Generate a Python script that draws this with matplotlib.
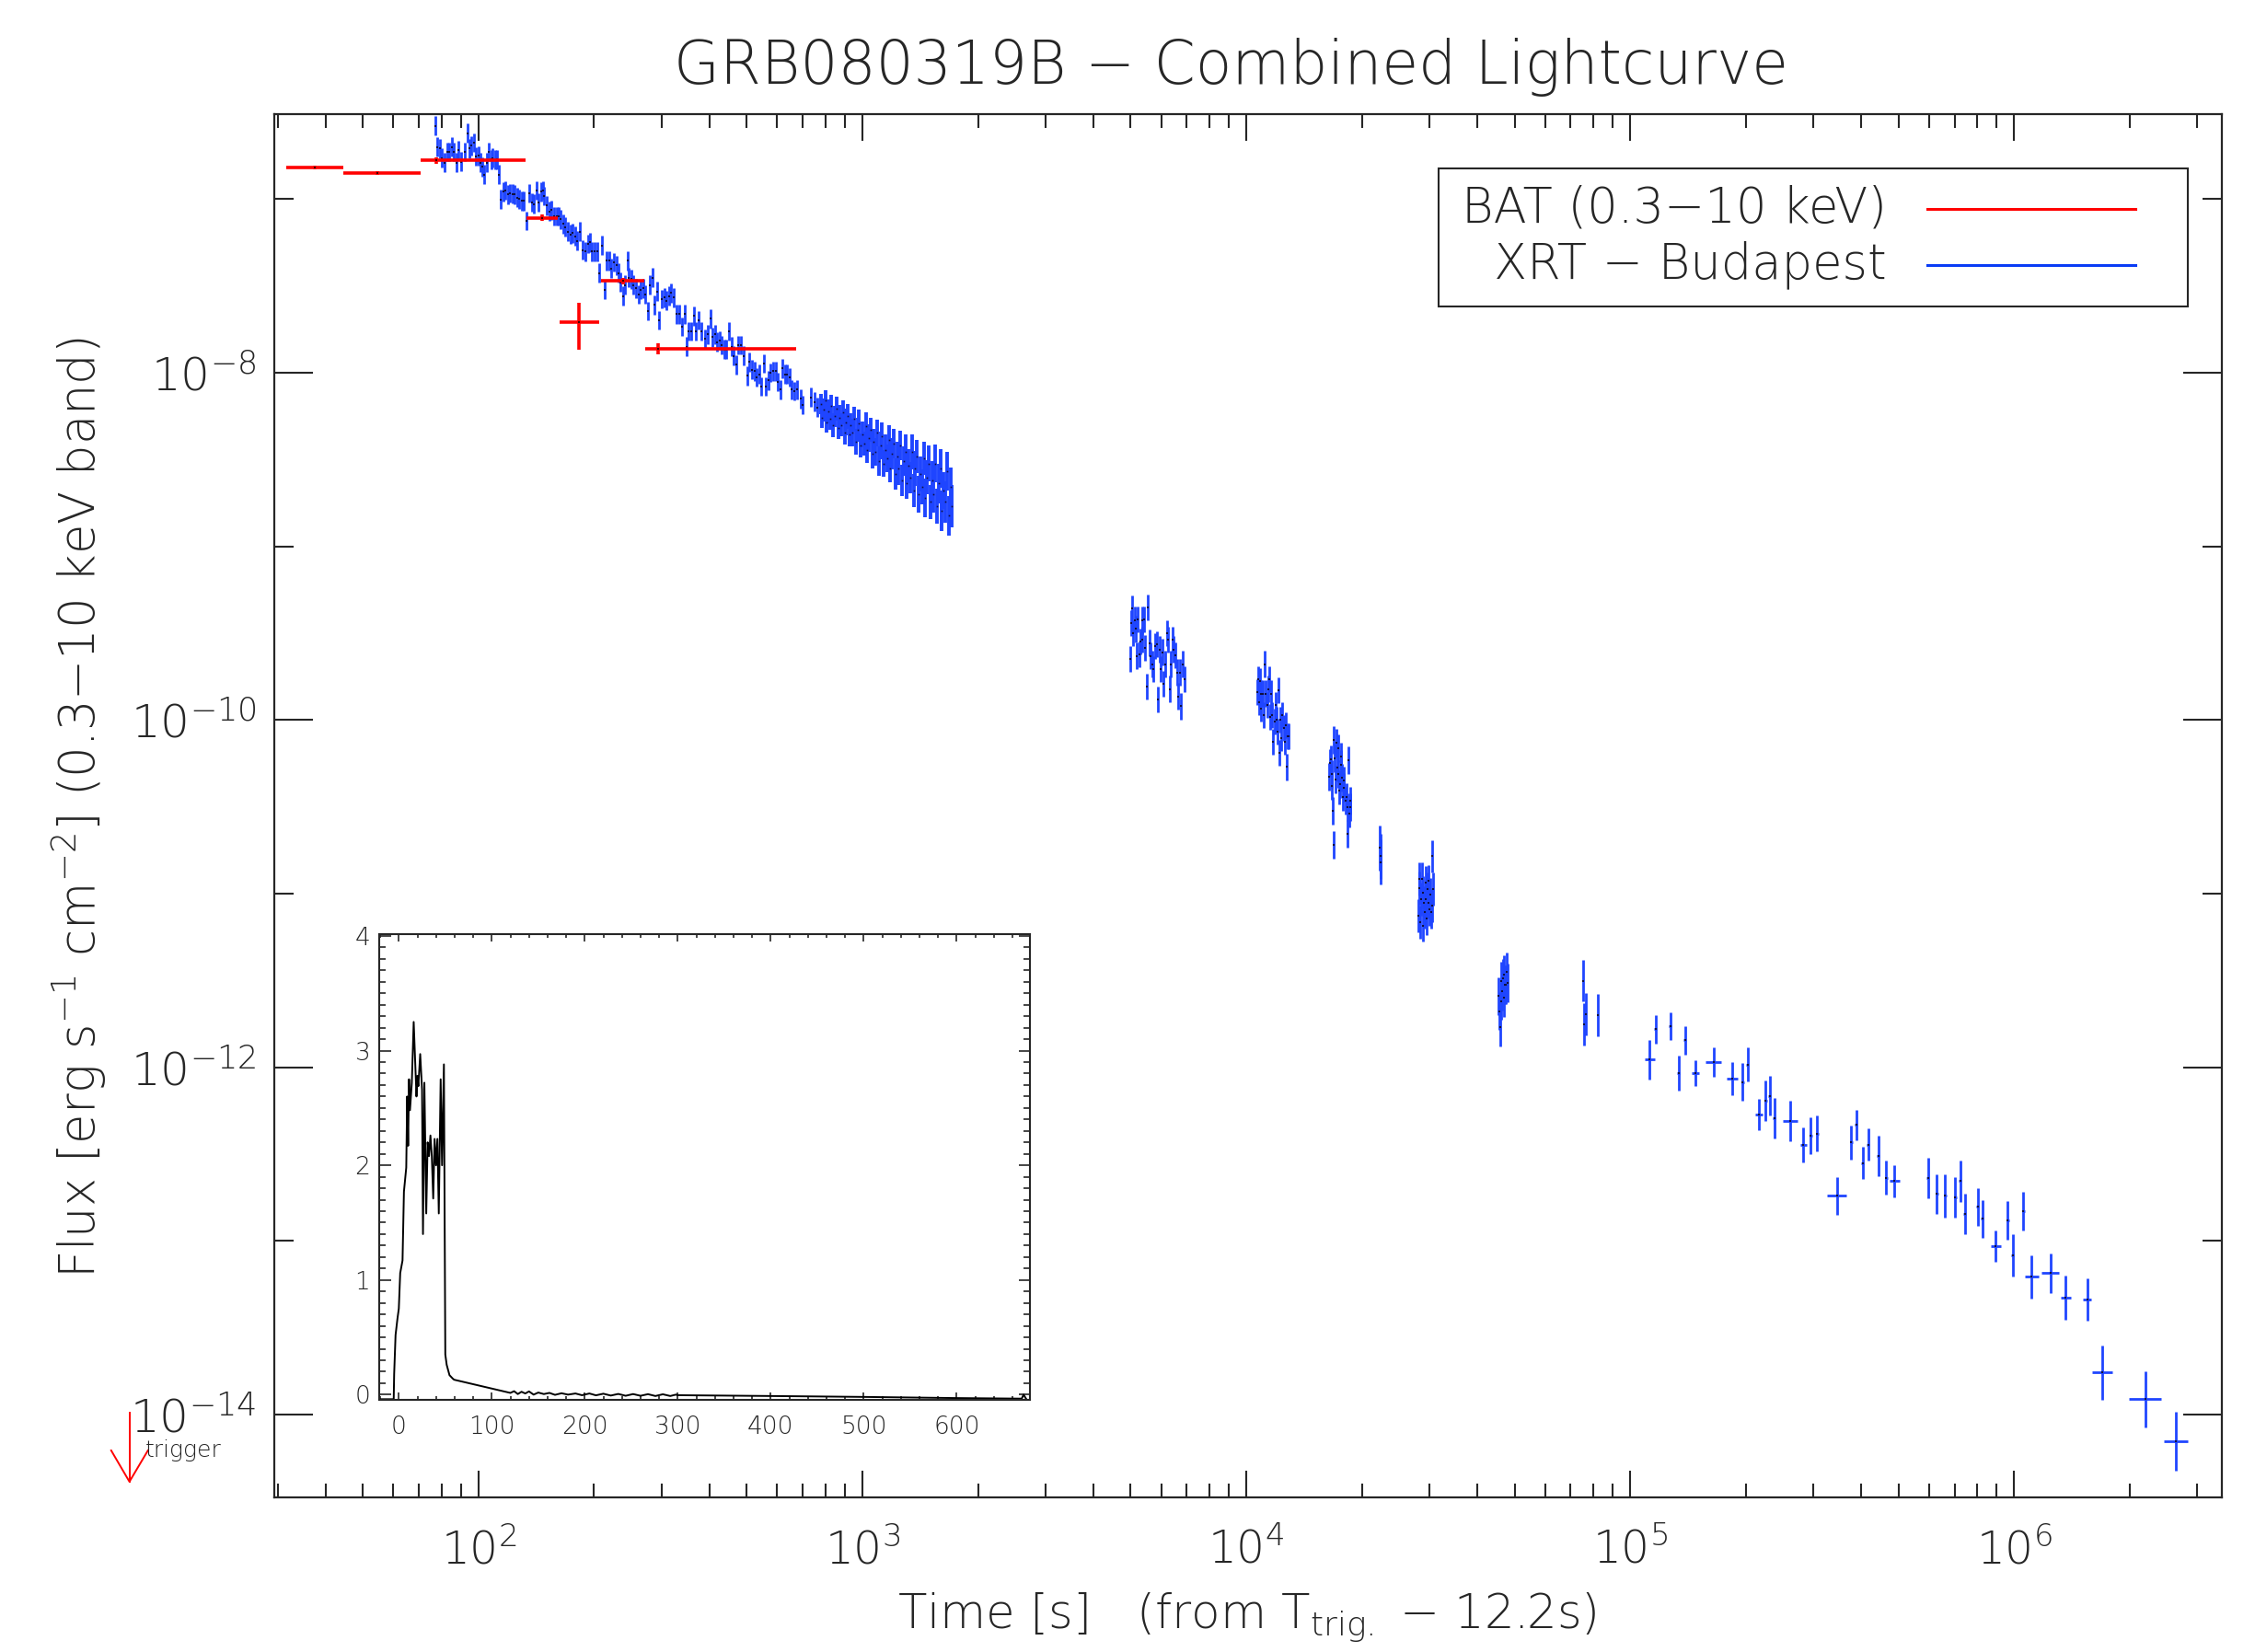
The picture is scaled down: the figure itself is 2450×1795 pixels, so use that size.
import matplotlib
matplotlib.use("Agg")
import matplotlib.pyplot as plt
from matplotlib.lines import Line2D
from matplotlib.patches import Rectangle
from matplotlib.ticker import (LogLocator, FixedLocator, NullFormatter,
                               LogFormatterMathtext, MultipleLocator)
import numpy as np

plt.rcParams['font.family'] = ['DejaVu Sans']
plt.rcParams['font.weight'] = 'light'
plt.rcParams['mathtext.fontset'] = 'dejavusans'

BLUE = '#1f45ff'
RED = '#ff0000'
INK = '#262626'

# ---------------- BAT (red) ----------------
bat_t = [37.4, 54.5, 77.6, 146.8, 183, 238, 293]
bat_tlo = [31.6, 44.5, 70.6, 133, 162.5, 208, 272]
bat_thi = [44.5, 70.6, 132.5, 161, 206, 270, 672]
bat_f = [1.52e-7, 1.41e-7, 1.67e-7, 7.8e-8, 1.95e-8, 3.37e-8, 1.37e-8]
bat_flo = [1.49e-7, 1.38e-7, 1.60e-7, 7.5e-8, 1.36e-8, 3.23e-8, 1.27e-8]
bat_fhi = [1.55e-7, 1.44e-7, 1.74e-7, 8.1e-8, 2.52e-8, 3.51e-8, 1.48e-8]

# ---------------- XRT early WT (blue) ----------------
wt1_t = [77.2, 78.0, 79.4, 80.3, 81.6, 82.8, 84.0, 85.2, 86.4, 87.6, 88.8, 90.1,
         91.9, 93.5, 94.5, 95.9, 97.2, 98.6, 100.0, 101.1, 102.3, 103.4, 104.9,
         106.4, 107.9, 108.8, 110.4, 111.9, 112.9,
         114.5, 115.8, 117.4, 119.1, 120.8, 122.5, 124.2, 126.0, 127.8, 129.6,
         131.4, 133.3, 135.6, 137.5, 139.4, 141.4, 143.4, 145.5, 147.1, 148.4,
         150.5, 152.6, 154.8, 157.0, 160.1, 161.9, 163.8, 166.1, 168.5, 170.9,
         173.3, 175.8, 178.2, 180.7, 183.8, 187.0, 190.1, 192.9, 195.6, 197.8,
         200.6, 203.4, 206.3, 209.8, 212.8, 215.8, 218.9, 221.4, 225.2, 228.4,
         231.6, 234.2, 237.6, 240.9, 244.3, 246.4, 249.9, 253.5, 257.0, 260.8,
         264.5, 268.2, 272.0, 275.8, 279.8, 283.8, 287.7, 291.8, 296.0, 300.2,
         304.5, 308.8, 313.2, 317.6, 322.2, 328.6, 333.2, 338.0, 343.7, 347.6,
         352.5, 357.5, 363.6, 368.8, 374.0, 381.4, 389.0, 395.7, 401.3, 407.0,
         412.8, 418.7, 424.6, 430.5, 436.6, 442.9, 449.2, 455.5, 461.9, 468.5,
         475.2, 481.9, 491.5, 501.2, 508.3, 515.5, 522.9, 530.3, 537.9, 545.5,
         553.3, 561.3, 569.2, 577.3, 585.5, 593.8, 602.2, 610.8, 619.4, 628.2,
         637.2, 646.2, 655.4, 664.7, 674.1, 689.5, 699.3, 735, 750, 762]
wt1_f = [2.64e-7, 1.99e-7, 1.95e-7, 1.72e-7, 1.62e-7, 1.87e-7, 1.87e-7, 1.99e-7,
         1.87e-7, 1.62e-7, 1.91e-7, 1.64e-7, 1.87e-7, 2.39e-7, 1.95e-7, 2.03e-7,
         2.11e-7, 1.76e-7, 1.77e-7, 1.62e-7, 1.53e-7, 1.38e-7, 1.62e-7, 1.87e-7,
         1.69e-7, 1.72e-7, 1.68e-7, 1.69e-7, 1.38e-7,
         9.96e-8, 1.10e-7, 1.12e-7, 1.06e-7, 1.08e-7, 1.07e-7, 1.06e-7, 1.02e-7,
         1.00e-7, 9.76e-8, 9.76e-8, 7.49e-8, 1.08e-7, 9.56e-8, 9.37e-8, 1.12e-7,
         9.56e-8, 1.10e-7, 1.12e-7, 1.04e-7, 9.18e-8, 8.47e-8, 8.64e-8, 7.96e-8,
         7.96e-8, 7.96e-8, 7.64e-8, 7.19e-8, 6.91e-8, 6.50e-8, 6.24e-8, 6.37e-8,
         6.11e-8, 5.75e-8, 6.50e-8, 5.09e-8, 4.99e-8, 5.52e-8, 5.63e-8, 4.99e-8,
         4.99e-8, 4.99e-8, 3.75e-8, 5.41e-8, 3.00e-8, 4.41e-8, 4.41e-8, 3.99e-8,
         4.32e-8, 4.15e-8, 3.75e-8, 3.32e-8, 2.76e-8, 3.19e-8, 4.41e-8, 3.53e-8,
         3.46e-8, 3.19e-8, 3.06e-8, 2.82e-8, 3.00e-8, 3.06e-8, 2.82e-8, 2.26e-8,
         3.19e-8, 3.53e-8, 2.45e-8, 2.94e-8, 2.00e-8, 2.65e-8, 2.71e-8, 2.60e-8,
         2.76e-8, 2.88e-8, 2.71e-8, 2.17e-8, 2.17e-8, 1.84e-8, 2.17e-8, 1.41e-8,
         1.73e-8, 1.73e-8, 2.12e-8, 1.73e-8, 2.00e-8, 1.73e-8, 1.56e-8, 1.66e-8,
         2.04e-8, 1.60e-8, 1.66e-8, 1.50e-8, 1.53e-8, 1.44e-8, 1.36e-8, 1.36e-8,
         1.73e-8, 1.41e-8, 1.25e-8, 1.11e-8, 1.44e-8, 1.44e-8, 1.25e-8, 9.60e-9,
         1.15e-8, 1.04e-8, 1.02e-8, 9.41e-9, 9.80e-9, 8.33e-9, 1.13e-8, 8.33e-9,
         9.03e-9, 1.00e-8, 1.02e-8, 1.02e-8, 8.85e-9, 8.00e-9, 1.06e-8, 9.80e-9,
         9.80e-9, 9.41e-9, 8.00e-9, 7.83e-9, 8.00e-9, 7.08e-9, 6.52e-9, 7.2e-9,
         6.8e-9, 6.3e-9]
wt1_dex = 0.055

# ---------------- XRT dense WT band ----------------
wt2_t = [778, 786, 793, 801, 808, 816, 823, 831, 839, 847, 855, 864, 872, 880,
         889, 898, 906, 915, 924, 933, 942, 952, 961, 971, 980, 990, 1000, 1010,
         1020, 1030, 1040, 1050, 1061, 1071, 1082, 1093, 1104, 1115, 1126, 1137,
         1148, 1160, 1171, 1183, 1195, 1207, 1219, 1231, 1243, 1256, 1268, 1281,
         1294, 1307, 1320, 1333, 1346, 1360, 1373, 1387, 1401, 1415, 1429, 1444,
         1458, 1473, 1488, 1503, 1518, 1533, 1548, 1564, 1580, 1596, 1612, 1628,
         1644, 1661, 1678, 1695, 1712]
wt2_f = [6.6e-9, 5.5e-9, 6.1e-9, 6.9e-9, 5.2e-9, 6.0e-9, 5.4e-9, 6.4e-9, 5.0e-9,
         5.6e-9, 6.2e-9, 4.8e-9, 5.5e-9, 5.0e-9, 5.9e-9, 4.5e-9, 5.2e-9, 5.6e-9,
         4.4e-9, 5.0e-9, 4.5e-9, 5.4e-9, 4.0e-9, 4.7e-9, 5.1e-9, 3.8e-9, 4.4e-9,
         3.9e-9, 4.9e-9, 3.6e-9, 4.2e-9, 4.7e-9, 3.4e-9, 4.0e-9, 3.5e-9, 4.5e-9,
         3.1e-9, 3.8e-9, 4.3e-9, 3.0e-9, 3.6e-9, 3.2e-9, 4.1e-9, 2.8e-9, 3.4e-9,
         3.9e-9, 2.6e-9, 3.3e-9, 2.8e-9, 3.8e-9, 2.4e-9, 3.1e-9, 3.5e-9, 2.3e-9,
         2.9e-9, 2.5e-9, 3.5e-9, 2.1e-9, 2.8e-9, 3.3e-9, 2.0e-9, 2.6e-9, 2.2e-9,
         3.2e-9, 1.9e-9, 2.5e-9, 3.0e-9, 1.8e-9, 2.4e-9, 2.0e-9, 3.0e-9, 1.7e-9,
         2.3e-9, 2.8e-9, 1.6e-9, 2.1e-9, 1.8e-9, 2.7e-9, 1.5e-9, 2.2e-9, 1.7e-9]
# error-bar half length of each band point, in dex
wt2_dex = [0.06, 0.06, 0.065, 0.06, 0.06, 0.07, 0.06, 0.065, 0.07, 0.06, 0.07,
           0.065, 0.075, 0.065, 0.07, 0.065, 0.075, 0.07, 0.07, 0.065, 0.08, 0.07,
           0.075, 0.07, 0.08, 0.07, 0.075, 0.07, 0.08, 0.075, 0.08, 0.07, 0.085,
           0.075, 0.08, 0.075, 0.085, 0.08, 0.08, 0.075, 0.09, 0.08, 0.085, 0.08,
           0.09, 0.085, 0.09, 0.085, 0.095, 0.085, 0.09, 0.085, 0.10, 0.09, 0.095,
           0.09, 0.10, 0.095, 0.10, 0.095, 0.105, 0.10, 0.10, 0.095, 0.11, 0.10,
           0.105, 0.10, 0.11, 0.105, 0.11, 0.10, 0.115, 0.11, 0.115, 0.105, 0.12,
           0.11, 0.115, 0.11, 0.12]

# ---------------- XRT PC orbits (blue) ----------------
pcA_t = [4984, 5006, 5038, 5070, 5113, 5145, 5178, 5222, 5255, 5311, 5345, 5367,
         5402, 5459, 5505, 5552, 5600, 5635, 5683, 5719, 5780, 5841, 5879, 5941,
         5992, 6055, 6094, 6158, 6223, 6263, 6317, 6357, 6425, 6466, 6520, 6590,
         6660, 6703, 6774, 6846, 6890]
pcA_f = [2.24e-10, 3.61e-10, 4.40e-10, 3.17e-10, 3.77e-10, 3.34e-10, 2.34e-10,
         3.81e-10, 2.39e-10, 2.84e-10, 3.77e-10, 2.90e-10, 3.81e-10, 2.60e-10,
         1.56e-10, 4.45e-10, 2.78e-10, 2.34e-10, 2.10e-10, 1.96e-10, 2.66e-10,
         2.72e-10, 1.31e-10, 2.55e-10, 1.96e-10, 2.46e-10, 1.61e-10, 2.10e-10,
         3.17e-10, 2.90e-10, 1.51e-10, 2.10e-10, 2.90e-10, 2.55e-10, 2.36e-10,
         1.88e-10, 1.37e-10, 1.88e-10, 1.20e-10, 2.10e-10, 1.72e-10]
pcB_t = [10695, 10742, 10787, 10832, 10901, 10947, 11017, 11087, 11181, 11253,
         11324, 11397, 11469, 11543, 11614, 11689, 11765, 11838, 11914, 11989,
         12066, 12144, 12195, 12274, 12351, 12430, 12508, 12589, 12667, 12722,
         12801, 12883]
pcB_f = [1.45e-10, 1.72e-10, 1.27e-10, 1.68e-10, 1.42e-10, 1.16e-10, 1.42e-10,
         1.07e-10, 2.10e-10, 1.42e-10, 1.22e-10, 1.51e-10, 1.72e-10, 1.04e-10,
         1.42e-10, 1.07e-10, 7.52e-11, 9.77e-11, 1.22e-10, 1.00e-10, 8.58e-11,
         1.48e-10, 6.46e-11, 1.00e-10, 7.86e-11, 1.07e-10, 8.96e-11, 7.52e-11,
         9.36e-11, 5.36e-11, 8.03e-11, 8.03e-11]
pcC_t = [16470, 16540, 16610, 16680, 16750, 16820, 16890, 16930, 17030, 17110,
         17180, 17250, 17330, 17400, 17480, 17550, 17620, 17700, 17770, 17850,
         17920, 18000, 18110, 18230, 18310, 18390, 18460, 18540, 18620, 18700]
pcC_f = [4.70e-11, 5.67e-11, 5.92e-11, 4.18e-11, 4.87e-11, 3.01e-11, 1.91e-11,
         7.69e-11, 6.05e-11, 4.56e-11, 7.36e-11, 5.31e-11, 4.87e-11, 6.90e-11,
         3.91e-11, 4.27e-11, 6.18e-11, 5.55e-11, 4.66e-11, 3.59e-11, 4.46e-11,
         4.09e-11, 3.43e-11, 3.59e-11, 3.15e-11, 2.22e-11, 5.84e-11, 2.89e-11,
         3.43e-11, 3.15e-11]
pcD_t = [22240, 22340, 22440]
pcD_f = [1.84e-11, 1.64e-11, 1.52e-11]
pcE_t = [28070, 28180, 28300, 28420, 28540, 28660, 28790, 28910, 29040, 29160,
         29290, 29410, 29540, 29660, 29790, 29910, 30040, 30170, 30290, 30420,
         30550, 30680]
pcE_f = [7.47e-12, 1.08e-11, 1.21e-11, 6.85e-12, 9.29e-12, 1.21e-11, 6.56e-12,
         1.01e-11, 8.90e-12, 7.80e-12, 1.16e-11, 9.29e-12, 7.16e-12, 1.06e-11,
         8.90e-12, 1.18e-11, 8.15e-12, 9.92e-12, 7.80e-12, 8.52e-12, 1.64e-11,
         1.06e-11]
pcF_t = [45470, 45660, 45850, 46050, 46240, 46440, 46640, 46840, 47030, 47240,
         47430, 47640, 47940]
pcF_f = [2.57e-12, 2.11e-12, 1.70e-12, 3.13e-12, 2.41e-12, 2.74e-12, 3.27e-12,
         2.51e-12, 3.41e-12, 2.99e-12, 2.99e-12, 3.56e-12, 3.06e-12]
pcG_t = [75540, 76020, 76500, 82170]
pcG_f = [3.15e-12, 1.77e-12, 2.02e-12, 2.00e-12]
# typical half-length of the error bars of each orbit, in dex
pc_dex = {'A': 0.075, 'B': 0.075, 'C': 0.08, 'D': 0.13, 'E': 0.095,
          'F': 0.11, 'G': 0.12}

# ---------------- XRT late PC, binned ----------------
late_t = [112500, 116450, 127400, 133600, 139000, 148100, 165000, 184400, 196500,
          202300, 216100, 225400, 230800, 237600, 261400, 282900, 295100, 307000,
          345800, 376300, 388500, 403100, 417200, 443300, 464900, 487500, 597500,
          630000, 660600, 702000, 724600, 744000, 805400, 827000, 895200, 963900,
          992300, 1057000, 1109000, 1245000, 1362000, 1551000, 1697000, 2198000,
          2645000]
late_tlo = [109300, 115500, 126300, 132500, 137900, 144600, 157400, 178700, 194900,
            200600, 211600, 223600, 228900, 235700, 250400, 277700, 292700, 304500,
            325300, 373200, 385300, 399800, 413800, 439700, 461100, 473700, 592600,
            624800, 655200, 696200, 718700, 737900, 798800, 820200, 871700, 956000,
            984200, 1048000, 1069000, 1181000, 1327000, 1515000, 1600000, 1988000,
            2456000]
late_thi = [115800, 117400, 128500, 134700, 140100, 151600, 173100, 190300, 198100,
            204000, 221800, 227200, 232700, 239500, 272700, 288900, 297500, 309500,
            366500, 379400, 391700, 406400, 420600, 446900, 468700, 503300, 602400,
            635200, 666000, 707800, 730500, 750100, 812000, 833800, 924000, 971800,
            1000400, 1066000, 1157000, 1313000, 1410000, 1588000, 1803000, 2424000,
            2840000]
late_f = [1.107e-12, 1.66e-12, 1.73e-12, 9.27e-13, 1.43e-12, 9.27e-13, 1.07e-12,
          8.57e-13, 8.24e-13, 1.04e-12, 5.35e-13, 6.45e-13, 6.85e-13, 5.09e-13,
          4.93e-13, 3.56e-13, 4.04e-13, 4.15e-13, 1.82e-13, 3.69e-13, 4.65e-13,
          2.81e-13, 3.59e-13, 3.09e-13, 2.31e-13, 2.21e-13, 2.31e-13, 1.87e-13,
          1.82e-13, 1.78e-13, 2.21e-13, 1.43e-13, 1.57e-13, 1.34e-13, 9.37e-14,
          1.31e-13, 8.26e-14, 1.48e-13, 6.21e-14, 6.54e-14, 4.70e-14, 4.61e-14,
          1.75e-14, 1.23e-14, 7.0e-15]
late_dex = [0.116, 0.083, 0.081, 0.10, 0.081, 0.074, 0.086, 0.096, 0.107, 0.096,
            0.088, 0.117, 0.115, 0.117, 0.117, 0.10, 0.107, 0.104, 0.11, 0.10,
            0.086, 0.093, 0.093, 0.115, 0.098, 0.091, 0.118, 0.114, 0.123, 0.115,
            0.118, 0.117, 0.109, 0.11, 0.091, 0.112, 0.124, 0.112, 0.125, 0.114,
            0.127, 0.122, 0.157, 0.162, 0.17]

# ---------------- inset: BAT count rate ----------------
inset_t = [-21, -5.5, -5, -3.5, -1.5, 0, 1.5, 4, 5.5, 8, 9, 10, 11, 12, 14, 16, 19,
           20, 21, 23, 25, 26, 27.5, 29.5, 31, 32.5, 34, 35.5, 37, 38.5, 40, 41.5,
           43, 45, 46.5, 48.5, 50, 51.5, 54.5, 58, 59.5, 120, 124, 128, 132, 136,
           140, 145, 150, 156, 162, 168, 175, 182, 190, 197, 205, 212, 220, 228,
           236, 244, 252, 260, 268, 276, 284, 292, 298, 300, 400, 500, 600, 670,
           672, 675]
inset_rate = [-0.04, -0.04, 0.18, 0.52, 0.66, 0.75, 1.06, 1.17, 1.77, 1.98, 2.6,
              2.17, 2.75, 2.48, 2.72, 3.25, 2.6, 2.78, 2.69, 2.97, 2.66, 1.4, 2.72,
              1.58, 2.2, 2.08, 2.26, 2.08, 1.71, 2.23, 2.0, 2.23, 1.58, 2.75, 2.0,
              2.88, 0.35, 0.26, 0.17, 0.14, 0.13, 0.015, 0.03, 0.005, 0.025, 0.01,
              0.028, 0.0, 0.018, 0.005, 0.015, -0.002, 0.012, 0.0, 0.01, -0.005,
              0.01, -0.006, 0.008, -0.008, 0.006, -0.01, 0.005, -0.01, 0.004,
              -0.012, 0.003, -0.012, 0.0, -0.005, -0.012, -0.02, -0.03, -0.035,
              0.0, -0.04]


def dex_err(f, d):
    f = np.asarray(f, float)
    d = np.asarray(d, float)
    return [f - f / 10 ** d, f * 10 ** d - f]


def draw_xrt(ax, t, f, yerr, xerr=None, lw=2.0, ms=1.8):
    ax.errorbar(t, f, yerr=yerr, xerr=xerr, fmt='none', ecolor=BLUE,
                elinewidth=lw, capsize=0, zorder=2)
    ax.plot(t, f, 's', ms=ms, mew=0, color='#101040', zorder=3)


fig = plt.figure(figsize=(24.5, 17.95), dpi=100)
ax = fig.add_axes([0.1216, 0.0936, 0.8637, 0.8373])
ax.set_xscale('log')
ax.set_yscale('log')
ax.set_xlim(29.35, 3.48e6)
ax.set_ylim(3.34e-15, 3.08e-7)

# XRT
draw_xrt(ax, wt1_t, wt1_f, dex_err(wt1_f, [wt1_dex] * len(wt1_f)))
draw_xrt(ax, wt2_t, wt2_f, dex_err(wt2_f, wt2_dex), lw=2.8, ms=1.2)
for key, tt, ff in [('A', pcA_t, pcA_f), ('B', pcB_t, pcB_f), ('C', pcC_t, pcC_f),
                    ('D', pcD_t, pcD_f), ('E', pcE_t, pcE_f), ('F', pcF_t, pcF_f),
                    ('G', pcG_t, pcG_f)]:
    draw_xrt(ax, tt, ff, dex_err(ff, [pc_dex[key]] * len(ff)))
lt = np.array(late_t)
draw_xrt(ax, late_t, late_f, dex_err(late_f, late_dex),
         xerr=[lt - np.array(late_tlo), np.array(late_thi) - lt])

# BAT
bt = np.array(bat_t)
bf = np.array(bat_f)
ax.errorbar(bat_t, bat_f, xerr=[bt - np.array(bat_tlo), np.array(bat_thi) - bt],
            yerr=[bf - np.array(bat_flo), np.array(bat_fhi) - bf],
            fmt='none', ecolor=RED, elinewidth=2.6, capsize=0, zorder=4)
ax.plot(bat_t, bat_f, 's', ms=1.8, mew=0, color='#400000', zorder=5)

# axes styling
for s in ax.spines.values():
    s.set_linewidth(1.6)
    s.set_color(INK)
ax.xaxis.set_major_locator(LogLocator(base=10, numticks=20))
ax.xaxis.set_minor_locator(LogLocator(base=10, subs=np.arange(2, 10), numticks=20))
ax.xaxis.set_major_formatter(LogFormatterMathtext())
ax.xaxis.set_minor_formatter(NullFormatter())
ax.yaxis.set_major_locator(FixedLocator([1e-14, 1e-12, 1e-10, 1e-8]))
ax.yaxis.set_minor_locator(FixedLocator([1e-13, 1e-11, 1e-9, 1e-7]))
ax.yaxis.set_major_formatter(LogFormatterMathtext())
ax.yaxis.set_minor_formatter(NullFormatter())
ax.tick_params(which='both', direction='in', top=True, right=True,
               width=1.5, colors=INK)
ax.tick_params(axis='x', which='major', length=21, labelsize=35, pad=24)
ax.tick_params(axis='x', which='minor', length=10.5)
ax.tick_params(axis='y', which='major', length=30, labelsize=36, pad=14)
ax.tick_params(axis='y', which='minor', length=15)

# legend drawn as a box
ax.add_patch(Rectangle((0.598, 0.861), 0.3845, 0.0997, transform=ax.transAxes,
                       fill=False, lw=1.5, edgecolor=INK, zorder=6))
ax.text(0.828, 0.9317, 'BAT (0.3\u221210 keV)', transform=ax.transAxes,
        ha='right', va='center', fontsize=38, color=INK)
ax.text(0.828, 0.8912, 'XRT \u2212 Budapest', transform=ax.transAxes,
        ha='right', va='center', fontsize=38, color=INK)
ax.add_line(Line2D([0.8488, 0.9556], [0.9317, 0.9317], transform=ax.transAxes,
                   color=RED, lw=2.2))
ax.add_line(Line2D([0.8488, 0.9556], [0.8912, 0.8912], transform=ax.transAxes,
                   color='#0a3cf5', lw=2.2))

# titles and labels
fig.text(0.546, 0.9593, 'GRB080319B \u2212 Combined Lightcurve', ha='center',
         va='center', fontsize=46.5, color=INK)
fig.text(0.553, 0.021, r'Time [s]   (from T$_{\mathrm{trig.}}$ $-$ 12.2s)',
         ha='center', va='center', fontsize=37, color=INK)
fig.text(0.035, 0.511, r'Flux [erg s$^{-1}$ cm$^{-2}$] (0.3$-$10 keV band)',
         ha='center', va='center', rotation=90, fontsize=38, color=INK)

# trigger marker
fig.add_artist(Line2D([0.0574, 0.0574], [0.1448, 0.1031], transform=fig.transFigure,
                      color=RED, lw=1.4))
fig.add_artist(Line2D([0.0493, 0.0574, 0.0656], [0.1220, 0.1031, 0.1220],
                      transform=fig.transFigure, color=RED, lw=1.4))
fig.text(0.0645, 0.1181, 'trigger', fontsize=18, va='baseline', ha='left', color=INK)

# inset
axin = fig.add_axes([0.1682, 0.1526, 0.2886, 0.2819])
axin.set_facecolor('white')
axin.plot(inset_t, inset_rate, color='black', lw=1.4)
axin.set_xlim(-21, 679)
axin.set_ylim(-0.046, 4.015)
axin.xaxis.set_major_locator(MultipleLocator(100))
axin.xaxis.set_minor_locator(MultipleLocator(20))
axin.yaxis.set_major_locator(MultipleLocator(1))
axin.yaxis.set_minor_locator(MultipleLocator(0.1))
for s in axin.spines.values():
    s.set_linewidth(1.5)
    s.set_color(INK)
axin.tick_params(which='both', direction='in', top=True, right=True, width=1.2,
                 colors=INK, labelsize=19)
axin.tick_params(axis='x', which='major', length=6, pad=12)
axin.tick_params(axis='x', which='minor', length=3)
axin.tick_params(axis='y', which='major', length=9, pad=7)
axin.tick_params(axis='y', which='minor', length=5)

fig.savefig('out.png', dpi=100)
